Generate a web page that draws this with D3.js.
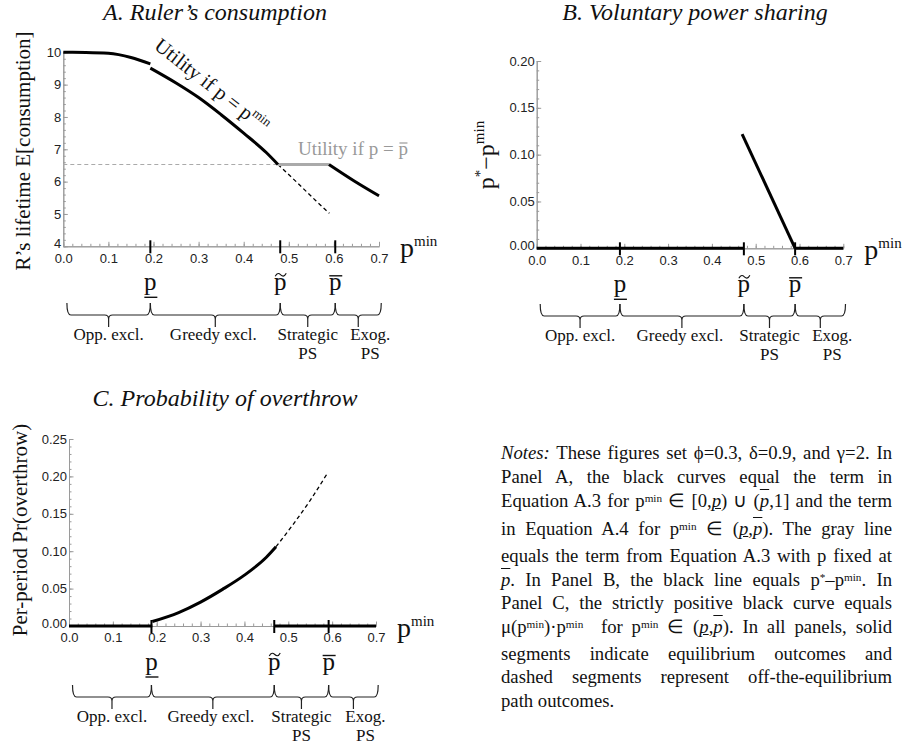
<!DOCTYPE html>
<html>
<head>
<meta charset="utf-8">
<script src="https://cdn.jsdelivr.net/npm/d3@7"></script>
<style>
  body { margin: 0; background: #fff; }
  #chart { position: relative; width: 907px; height: 750px; }
  svg { position: absolute; left: 0; top: 0; }
  .serif { font-family: "Liberation Serif", "Times New Roman", serif; fill: #111; }
  .tick text { font-family: "Liberation Sans", Arial, sans-serif; font-size: 13px; fill: #222; }
  .axis path, .axis line { stroke: #9a9a9a; stroke-width: 1; }
  .note { position: absolute; left: 501px; width: 391px; font-family: "Liberation Serif", "Times New Roman", serif;
          font-size: 18.7px; line-height: 18px; text-align: justify; text-align-last: justify; color: #111; }
  .note.last { text-align-last: left; }
  .note sup { font-size: 0.6em; line-height: 0; vertical-align: 0.45em; }
  .note .u { text-decoration: underline; }
  .note .o { text-decoration: overline; }
</style>
</head>
<body>
<div id="chart"></div>
<script>
// ---- data ----
const xTicks = [0, 0.1, 0.2, 0.3, 0.4, 0.5, 0.6, 0.7];
const yTicksA = [4, 5, 6, 7, 8, 9, 10];
const yTicksB = [0, 0.05, 0.10, 0.15, 0.20];
const yTicksC = [0, 0.05, 0.10, 0.15, 0.20, 0.25];

const regimeLabels = [['Opp. excl.'], ['Greedy excl.'], ['Strategic', 'PS'], ['Exog.', 'PS']];
const regimeShift = [0, -2, 0, 12]; // label offset from the brace tip, px
const markerKinds = ['under', 'tilde', 'bar'];

// p_, p~, p-bar as drawn on each panel
const markersA = [0.193, 0.481, 0.603];
const markersB = [0.190, 0.473, 0.590];
const markersC = [0.188, 0.468, 0.592];

// Panel A: ruler's consumption
const aLow = [[0, 10], [0.05, 9.995], [0.1, 9.97], [0.15, 9.84], [0.193, 9.64]];
const aMid = [[0.193, 9.51], [0.25, 9.05], [0.3, 8.6], [0.35, 8.07], [0.4, 7.5], [0.45, 6.9], [0.476, 6.53]];
const aMidOff = [[0.476, 6.53], [0.52, 5.95], [0.56, 5.41], [0.59, 5.02]];
const aGrayRef = [[0, 6.53], [0.476, 6.53]];
const aGray = [[0.476, 6.53], [0.589, 6.53]];
const aHigh = [[0.589, 6.53], [0.645, 6.02], [0.7, 5.56]];

// Panel B: voluntary power sharing
const bZeroLow = [[0, 0], [0.473, 0]];
const bZeroHigh = [[0.59, 0], [0.7, 0]];
const bShare = [[0.469, 0.122], [0.59, 0]];

// Panel C: probability of overthrow
const cZeroLow = [[0, 0], [0.19, 0]];
const cZeroHigh = [[0.468, 0], [0.7, 0]];
const cCurve = [[0.19, 0.006], [0.25, 0.018], [0.3, 0.032], [0.35, 0.049], [0.4, 0.068], [0.45, 0.092], [0.472, 0.106]];
const cCurveOff = [[0.472, 0.106], [0.51, 0.135], [0.55, 0.168], [0.59, 0.205]];

const noteLines = [
  '<i>Notes:</i> These figures set ϕ=0.3, δ=0.9, and γ=2. In',
  'Panel A, the black curves equal the term in',
  'Equation A.3 for p<sup>min</sup> ∈ [0,<i class="u">p</i>) ∪ (<i class="o">p</i>,1] and the term',
  'in Equation A.4 for p<sup>min</sup> ∈ (<i class="u">p</i>,<i class="o">p</i>). The gray line',
  'equals the term from Equation A.3 with p fixed at',
  '<i class="o">p</i>. In Panel B, the black line equals p<sup>*</sup>–p<sup>min</sup>. In',
  'Panel C, the strictly positive black curve equals',
  'μ(p<sup>min</sup>)·p<sup>min</sup>&nbsp; for p<sup>min</sup> ∈ (<i class="u">p</i>,<i class="o">p</i>). In all panels, solid',
  'segments indicate equilibrium outcomes and',
  'dashed segments represent off-the-equilibrium',
  'path outcomes.'
];
const noteBaselines = [459, 483, 507, 535, 562, 586, 609, 633, 660, 683, 707];

// ---- styles ----
const lineStyles = {
  solid:     { stroke: '#000', width: 3, dash: null },
  dash:      { stroke: '#000', width: 1.3, dash: '4,3' },
  grayDash:  { stroke: '#aaa', width: 1.2, dash: '4,3' },
  graySolid: { stroke: '#aaa', width: 3, dash: null }
};

const panels = [
  {
    title: 'A. Ruler’s consumption', titleX: 215, titleY: 20,
    xRange: [63.3, 379], yDomain: [4, 10], yRange: [246.3, 52.3],
    yTicks: yTicksA, yMinor: 0.2, yFormat: d3.format('d'),
    markers: markersA, braceTop: 303,
    series: [
      { data: aGrayRef, style: 'grayDash' },
      { data: aMidOff, style: 'dash' },
      { data: aGray, style: 'graySolid' },
      { data: aLow, style: 'solid' },
      { data: aMid, style: 'solid' },
      { data: aHigh, style: 'solid' }
    ]
  },
  {
    title: 'B. Voluntary power sharing', titleX: 695, titleY: 20,
    xRange: [536.7, 843.3], yDomain: [0, 0.2], yRange: [248.3, 61],
    yTicks: yTicksB, yMinor: 0.01, yFormat: d3.format('.2f'),
    markers: markersB, braceTop: 304,
    series: [
      { data: bZeroLow, style: 'solid' },
      { data: bZeroHigh, style: 'solid' },
      { data: bShare, style: 'solid' }
    ]
  },
  {
    title: 'C. Probability of overthrow', titleX: 225, titleY: 406,
    xRange: [69, 376], yDomain: [0, 0.25], yRange: [626, 439],
    yTicks: yTicksC, yMinor: 0.01, yFormat: d3.format('.2f'),
    markers: markersC, braceTop: 685,
    series: [
      { data: cZeroLow, style: 'solid' },
      { data: cZeroHigh, style: 'solid' },
      { data: cCurveOff, style: 'dash' },
      { data: cCurve, style: 'solid' }
    ]
  }
];

const chart = d3.select('#chart');
const svg = chart.append('svg').attr('width', 907).attr('height', 750);

function bracePath(x0, x1, top) {
  const mid = top + 12, tip = top + 24, xc = (x0 + x1) / 2, r = 4;
  return `M${x0},${top} Q${x0},${mid} ${x0 + r},${mid} L${xc - r},${mid} Q${xc},${mid} ${xc},${mid + r} L${xc},${tip}` +
         ` M${xc},${mid + r} Q${xc},${mid} ${xc + r},${mid} L${x1 - r},${mid} Q${x1},${mid} ${x1},${top}`;
}

function drawPanel(p) {
  const g = svg.append('g');
  const x = d3.scaleLinear().domain([0, 0.7]).range(p.xRange);
  const y = d3.scaleLinear().domain(p.yDomain).range(p.yRange);
  const axisY = p.yRange[0];
  const axisX = p.xRange[0];

  // title
  g.append('text').attr('class', 'serif')
    .attr('x', p.titleX).attr('y', p.titleY)
    .attr('text-anchor', 'middle')
    .style('font-size', '24px').style('font-style', 'italic')
    .text(p.title);

  // axes (Mathematica style: gray, inward ticks)
  g.append('g').attr('class', 'axis')
    .attr('transform', `translate(0,${axisY})`)
    .call(d3.axisBottom(x).tickValues(d3.range(0, 0.7001, 0.02)).tickSize(-2.5).tickSizeOuter(0).tickFormat(''));
  g.append('g').attr('class', 'axis')
    .attr('transform', `translate(0,${axisY})`)
    .call(d3.axisBottom(x).tickValues(xTicks).tickSize(-4.5).tickSizeOuter(0).tickPadding(7).tickFormat(d3.format('.1f')));
  g.append('g').attr('class', 'axis')
    .attr('transform', `translate(${axisX},0)`)
    .call(d3.axisLeft(y).tickValues(d3.range(p.yDomain[0], p.yDomain[1] + 1e-9, p.yMinor)).tickSize(-2.5).tickSizeOuter(0).tickFormat(''));
  const yAxisG = g.append('g').attr('class', 'axis')
    .attr('transform', `translate(${axisX},0)`)
    .call(d3.axisLeft(y).tickValues(p.yTicks).tickSize(-4.5).tickSizeOuter(0).tickPadding(2).tickFormat(p.yFormat));
  // the lowest y label sits just above the x labels
  yAxisG.selectAll('.tick text').filter(d => d === p.yDomain[0]).attr('dy', '0.1em');

  // x axis label p^min
  const xl = g.append('text').attr('class', 'serif')
    .attr('x', p.xRange[1] + 21).attr('y', axisY + 11)
    .style('font-size', '28px');
  xl.append('tspan').text('p');
  xl.append('tspan').attr('dy', -11).style('font-size', '15px').text('min');

  // curves
  const line = d3.line().x(d => x(d[0])).y(d => y(d[1])).curve(d3.curveMonotoneX);
  g.selectAll('path.curve').data(p.series).enter().append('path')
    .attr('class', 'curve')
    .attr('d', d => line(d.data))
    .attr('fill', 'none')
    .attr('stroke', d => lineStyles[d.style].stroke)
    .attr('stroke-width', d => lineStyles[d.style].width)
    .attr('stroke-dasharray', d => lineStyles[d.style].dash);

  // threshold markers
  const mk = g.selectAll('g.marker').data(p.markers).enter().append('g')
    .attr('class', 'marker')
    .attr('transform', d => `translate(${x(d)},0)`);
  mk.append('line')
    .attr('y1', axisY - 6).attr('y2', axisY + 7)
    .attr('stroke', '#000').attr('stroke-width', 2);
  const labY = axisY + 44;
  mk.append('text').attr('class', 'serif')
    .attr('y', labY).attr('text-anchor', 'middle')
    .style('font-size', '25px').text('p');
  mk.each(function(d, i) {
    const s = d3.select(this);
    const kind = markerKinds[i];
    if (kind === 'under') {
      s.append('line').attr('x1', -6).attr('x2', 7).attr('y1', labY + 7).attr('y2', labY + 7)
        .attr('stroke', '#111').attr('stroke-width', 1.4);
    } else if (kind === 'bar') {
      s.append('line').attr('x1', -6).attr('x2', 7).attr('y1', labY - 14.5).attr('y2', labY - 14.5)
        .attr('stroke', '#111').attr('stroke-width', 1.4);
    } else {
      s.append('path')
        .attr('d', `M-5,${labY - 14} C-3,${labY - 18} -1,${labY - 17} 0.5,${labY - 15.5} S4,${labY - 13} 6,${labY - 17}`)
        .attr('fill', 'none').attr('stroke', '#111').attr('stroke-width', 1.1);
    }
  });

  // regime braces
  const bounds = [0.008].concat(p.markers, [0.705]);
  const regimes = regimeLabels.map((lab, i) => ({ x0: x(bounds[i]), x1: x(bounds[i + 1]), lab, dx: regimeShift[i] }));
  const rg = g.selectAll('g.regime').data(regimes).enter().append('g').attr('class', 'regime');
  rg.append('path')
    .attr('d', d => bracePath(d.x0, d.x1, p.braceTop))
    .attr('fill', 'none').attr('stroke', '#222').attr('stroke-width', 1.2);
  rg.each(function(d) {
    const t = d3.select(this).append('text').attr('class', 'serif')
      .attr('text-anchor', 'middle').style('font-size', '17px');
    d.lab.forEach((s, k) => {
      t.append('tspan').attr('x', (d.x0 + d.x1) / 2 + d.dx)
        .attr('y', p.braceTop + 36.5 + k * 19.5).text(s);
    });
  });
  return { g, x, y };
}

const pa = drawPanel(panels[0]);
const pb = drawPanel(panels[1]);
const pc = drawPanel(panels[2]);

// y axis titles
svg.append('text').attr('class', 'serif')
  .attr('transform', 'translate(30,151) rotate(-90)')
  .attr('text-anchor', 'middle').style('font-size', '21px')
  .text('R’s lifetime E[consumption]');
svg.append('text').attr('class', 'serif')
  .attr('transform', 'translate(27,530) rotate(-90)')
  .attr('text-anchor', 'middle').style('font-size', '21px')
  .text('Per-period Pr(overthrow)');
const byl = svg.append('text').attr('class', 'serif')
  .attr('transform', 'translate(494,155) rotate(-90)')
  .attr('text-anchor', 'middle').style('font-size', '24px');
byl.append('tspan').text('p');
byl.append('tspan').attr('dy', -9).style('font-size', '15px').text('*');
byl.append('tspan').attr('dy', 9).text('−p');
byl.append('tspan').attr('dy', -10).style('font-size', '15px').text('min');

// panel A curve annotations
const ua = pa.g.append('text').attr('class', 'serif')
  .attr('transform', 'translate(153,48) rotate(38)')
  .style('font-size', '20.5px');
ua.append('tspan').text('Utility if p = p');
ua.append('tspan').attr('dy', -8).style('font-size', '13px').text('min');

const ub = pa.g.append('text').attr('class', 'serif')
  .attr('x', 298).attr('y', 155)
  .style('font-size', '19px').style('fill', '#999')
  .text('Utility if p = p');
{
  const node = ub.node();
  const n = node.getNumberOfChars();
  const x0 = 298 + node.getSubStringLength(0, n - 1);
  const w = node.getSubStringLength(n - 1, 1);
  pa.g.append('line')
    .attr('x1', x0 + 1).attr('x2', x0 + w - 0.5)
    .attr('y1', 155 - 12).attr('y2', 155 - 12)
    .attr('stroke', '#999').attr('stroke-width', 1.2);
}

// notes block
chart.selectAll('div.note').data(noteLines).enter().append('div')
  .attr('class', (d, i) => i === noteLines.length - 1 ? 'note last' : 'note')
  .style('top', (d, i) => (noteBaselines[i] - 15) + 'px')
  .html(d => d);
</script>
</body>
</html>
